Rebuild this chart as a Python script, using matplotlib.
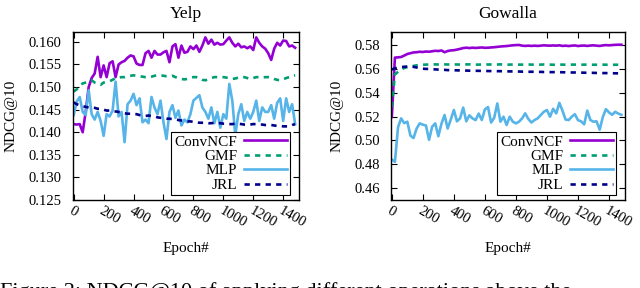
import numpy as np
from matplotlib import pyplot as plt

plt.rcParams['font.family'] = ['Liberation Serif', 'DejaVu Serif']

epochs = list(range(0, 1500, 20))

yelp_convncf = [
    0.1418, 0.1417, 0.1418, 0.1400, 0.1445, 0.1500, 0.1520, 0.1530, 0.1567, 0.1522,
    0.1548, 0.1522, 0.1553, 0.1557, 0.1522, 0.1550, 0.1555, 0.1558, 0.1565, 0.1570,
    0.1568, 0.1552, 0.1549, 0.1549, 0.1575, 0.1580, 0.1565, 0.1580, 0.1572, 0.1572,
    0.1577, 0.1580, 0.1555, 0.1590, 0.1595, 0.1565, 0.1592, 0.1576, 0.1578, 0.1590,
    0.1584, 0.1592, 0.1578, 0.1592, 0.1610, 0.1596, 0.1605, 0.1594, 0.1598, 0.1594,
    0.1595, 0.1603, 0.1610, 0.1598, 0.1590, 0.1596, 0.1588, 0.1590, 0.1586, 0.1590,
    0.1582, 0.1610, 0.1598, 0.1590, 0.1585, 0.1575, 0.1560, 0.1585, 0.1598, 0.1592,
    0.1603, 0.1602, 0.1590, 0.1592, 0.1587,
]
yelp_gmf = [
    0.1490, 0.1495, 0.1503, 0.1508, 0.1510, 0.1512, 0.1515, 0.1510, 0.1508, 0.1505,
    0.1510, 0.1512, 0.1513, 0.1516, 0.1520, 0.1521, 0.1522, 0.1522, 0.1524, 0.1525,
    0.1526, 0.1525, 0.1524, 0.1523, 0.1522, 0.1522, 0.1523, 0.1525, 0.1526, 0.1526,
    0.1525, 0.1524, 0.1524, 0.1525, 0.1522, 0.1520, 0.1518, 0.1517, 0.1518, 0.1521,
    0.1522, 0.1522, 0.1520, 0.1516, 0.1515, 0.1517, 0.1520, 0.1522, 0.1522, 0.1522,
    0.1522, 0.1521, 0.1519, 0.1518, 0.1519, 0.1521, 0.1522, 0.1522, 0.1520, 0.1518,
    0.1520, 0.1522, 0.1522, 0.1521, 0.1522, 0.1522, 0.1521, 0.1518, 0.1516, 0.1515,
    0.1517, 0.1520, 0.1522, 0.1525, 0.1526,
]
yelp_mlp = [
    0.1438, 0.1468, 0.1478, 0.1445, 0.1438, 0.1493, 0.1440, 0.1428, 0.1445, 0.1425,
    0.1392, 0.1440, 0.1435, 0.1448, 0.1512, 0.1435, 0.1445, 0.1378, 0.1462, 0.1470,
    0.1485, 0.1460, 0.1475, 0.1422, 0.1428, 0.1420, 0.1478, 0.1455, 0.1440, 0.1470,
    0.1422, 0.1385, 0.1445, 0.1460, 0.1432, 0.1448, 0.1415, 0.1428, 0.1422, 0.1440,
    0.1470, 0.1476, 0.1482, 0.1455, 0.1445, 0.1430, 0.1455, 0.1420, 0.1445, 0.1410,
    0.1440, 0.1430, 0.1507, 0.1470, 0.1393, 0.1440, 0.1462, 0.1425, 0.1445, 0.1430,
    0.1445, 0.1470, 0.1425, 0.1455, 0.1445, 0.1445, 0.1460, 0.1430, 0.1465, 0.1475,
    0.1425, 0.1475, 0.1445, 0.1462, 0.1418,
]
yelp_jrl = [
    0.1466, 0.1462, 0.1460, 0.1458, 0.1456, 0.1455, 0.1455, 0.1454, 0.1452, 0.1452,
    0.1450, 0.1448, 0.1448, 0.1447, 0.1446, 0.1445, 0.1444, 0.1442, 0.1441, 0.1441,
    0.1440, 0.1440, 0.1438, 0.1437, 0.1436, 0.1437, 0.1436, 0.1435, 0.1433, 0.1432,
    0.1431, 0.1430, 0.1430, 0.1429, 0.1428, 0.1427, 0.1426, 0.1425, 0.1424, 0.1424,
    0.1423, 0.1422, 0.1421, 0.1421, 0.1421, 0.1420, 0.1420, 0.1421, 0.1420, 0.1420,
    0.1419, 0.1419, 0.1418, 0.1418, 0.1419, 0.1419, 0.1418, 0.1417, 0.1417, 0.1417,
    0.1418, 0.1418, 0.1417, 0.1417, 0.1416, 0.1416, 0.1416, 0.1415, 0.1414, 0.1414,
    0.1413, 0.1413, 0.1413, 0.1416, 0.1418,
]

gowalla_convncf = [
    0.5196, 0.5695, 0.5697, 0.5700, 0.5712, 0.5725, 0.5732, 0.5738, 0.5740, 0.5744,
    0.5742, 0.5746, 0.5744, 0.5748, 0.5752, 0.5750, 0.5755, 0.5740, 0.5750, 0.5755,
    0.5757, 0.5762, 0.5768, 0.5775, 0.5778, 0.5775, 0.5778, 0.5776, 0.5778, 0.5780,
    0.5777, 0.5778, 0.5780, 0.5782, 0.5785, 0.5788, 0.5790, 0.5792, 0.5795, 0.5798,
    0.5800, 0.5801, 0.5795, 0.5793, 0.5795, 0.5793, 0.5795, 0.5793, 0.5795, 0.5798,
    0.5796, 0.5795, 0.5797, 0.5795, 0.5798, 0.5793, 0.5795, 0.5792, 0.5795, 0.5797,
    0.5792, 0.5795, 0.5796, 0.5793, 0.5796, 0.5798, 0.5795, 0.5793, 0.5797, 0.5800,
    0.5798, 0.5800, 0.5802, 0.5803, 0.5803,
]
gowalla_gmf = [
    0.5280, 0.5555, 0.5575, 0.5595, 0.5608, 0.5615, 0.5620, 0.5625, 0.5630, 0.5632,
    0.5635, 0.5636, 0.5637, 0.5637, 0.5638, 0.5637, 0.5638, 0.5638, 0.5637, 0.5638,
    0.5638, 0.5637, 0.5636, 0.5637, 0.5638, 0.5638, 0.5637, 0.5636, 0.5636, 0.5637,
    0.5638, 0.5637, 0.5637, 0.5636, 0.5637, 0.5638, 0.5637, 0.5636, 0.5636, 0.5637,
    0.5637, 0.5636, 0.5636, 0.5637, 0.5637, 0.5636, 0.5636, 0.5635, 0.5636, 0.5637,
    0.5636, 0.5636, 0.5635, 0.5635, 0.5636, 0.5636, 0.5635, 0.5635, 0.5636, 0.5636,
    0.5635, 0.5635, 0.5636, 0.5636, 0.5635, 0.5635, 0.5635, 0.5636, 0.5636, 0.5635,
    0.5635, 0.5634, 0.5635, 0.5635, 0.5635,
]
gowalla_mlp = [
    0.4840, 0.4820, 0.5110, 0.5185, 0.5145, 0.5157, 0.5040, 0.5020, 0.5100, 0.5143,
    0.5132, 0.5125, 0.5005, 0.5115, 0.5143, 0.5035, 0.5140, 0.5213, 0.5100, 0.5175,
    0.5255, 0.5160, 0.5185, 0.5275, 0.5160, 0.5210, 0.5185, 0.5170, 0.5225, 0.5171,
    0.5260, 0.5280, 0.5150, 0.5190, 0.5310, 0.5157, 0.5199, 0.5129, 0.5199, 0.5157,
    0.5143, 0.5157, 0.5185, 0.5227, 0.5180, 0.5150, 0.5171, 0.5185, 0.5213, 0.5240,
    0.5255, 0.5199, 0.5265, 0.5227, 0.5315, 0.5250, 0.5175, 0.5171, 0.5199, 0.5220,
    0.5170, 0.5160, 0.5135, 0.5250, 0.5171, 0.5157, 0.5160, 0.5090, 0.5195, 0.5262,
    0.5235, 0.5215, 0.5240, 0.5225, 0.5215,
]
gowalla_jrl = [
    0.5595, 0.5605, 0.5610, 0.5615, 0.5618, 0.5620, 0.5620, 0.5617, 0.5612, 0.5606,
    0.5602, 0.5600, 0.5600, 0.5598, 0.5596, 0.5594, 0.5592, 0.5592, 0.5590, 0.5590,
    0.5589, 0.5588, 0.5587, 0.5586, 0.5586, 0.5585, 0.5585, 0.5584, 0.5584, 0.5583,
    0.5583, 0.5582, 0.5582, 0.5582, 0.5581, 0.5581, 0.5580, 0.5580, 0.5579, 0.5579,
    0.5578, 0.5578, 0.5577, 0.5577, 0.5576, 0.5576, 0.5576, 0.5575, 0.5575, 0.5574,
    0.5574, 0.5573, 0.5573, 0.5573, 0.5572, 0.5572, 0.5571, 0.5571, 0.5570, 0.5570,
    0.5569, 0.5569, 0.5568, 0.5568, 0.5567, 0.5567, 0.5566, 0.5566, 0.5565, 0.5565,
    0.5564, 0.5564, 0.5563, 0.5563, 0.5562,
]

yelp_yticks = [0.125, 0.130, 0.135, 0.140, 0.145, 0.150, 0.155, 0.160]
gowalla_yticks = [0.46, 0.48, 0.50, 0.52, 0.54, 0.56, 0.58]
xticks = [0, 200, 400, 600, 800, 1000, 1200, 1400]

colors = {
    'ConvNCF': '#9400d3',
    'GMF': '#009e73',
    'MLP': '#56b4e9',
    'JRL': '#00008b',
}
styles = {
    'ConvNCF': '-',
    'GMF': (0, (2, 2)),
    'MLP': '-',
    'JRL': (0, (2, 2)),
}


def draw_panel(ax, title, series, ylim, yticks, yfmt):
    '''
    Draws one NDCG@10 vs epoch panel in a gnuplot-like style.
    '''
    for name, values in series.items():
        ax.plot(epochs, values, color=colors[name], linestyle=styles[name],
                linewidth=1.9, label=name)

    ax.set_xlim(-5, 1505)
    ax.set_ylim(*ylim)
    ax.set_xticks(xticks)
    ax.set_yticks(yticks)
    ax.set_yticklabels([yfmt.format(t) for t in yticks])
    ax.tick_params(direction='in', length=4, width=0.8, top=True, right=True,
                   labelsize=10.5, pad=8)
    ax.tick_params(axis='x', pad=3)
    for label in ax.get_xticklabels():
        label.set_rotation(-30)
        label.set_ha('left')
        label.set_va('top')
        label.set_rotation_mode('anchor')
    for spine in ax.spines.values():
        spine.set_linewidth(1.0)

    ax.set_title(title, fontsize=12.5, pad=10)
    ax.set_xlabel('Epoch#', fontsize=11, labelpad=9)
    ax.set_ylabel('NDCG@10', fontsize=11, labelpad=8)

    leg = ax.legend(loc='lower right', bbox_to_anchor=(0.96, 0.03),
                    markerfirst=False, fancybox=False, framealpha=1,
                    edgecolor='black', fontsize=11, handlelength=2.8,
                    handletextpad=0.45, labelspacing=0.05, borderpad=0.2,
                    borderaxespad=0)
    leg.get_frame().set_linewidth(0.8)
    for text in leg.get_texts():
        text.set_ha('right')


fig = plt.figure(figsize=(6.4, 2.88), dpi=100)

ax_yelp = fig.add_axes([0.114, 0.3056, 0.353, 0.5834])
draw_panel(ax_yelp, 'Yelp',
           {'ConvNCF': yelp_convncf, 'GMF': yelp_gmf, 'MLP': yelp_mlp, 'JRL': yelp_jrl},
           (0.125, 0.1622), yelp_yticks, '{:.3f}')

ax_gowalla = fig.add_axes([0.611, 0.3056, 0.366, 0.5834])
draw_panel(ax_gowalla, 'Gowalla',
           {'ConvNCF': gowalla_convncf, 'GMF': gowalla_gmf, 'MLP': gowalla_mlp, 'JRL': gowalla_jrl},
           (0.45, 0.591), gowalla_yticks, '{:.2f}')

# caption of the paper figure, cut off by the bottom edge as in the source
fig.text(0.0, 0.02, 'Figure 2: NDCG@10 of applying different operations above the',
         fontsize=16, ha='left', va='top')

fig.savefig('out.png', dpi=100)
